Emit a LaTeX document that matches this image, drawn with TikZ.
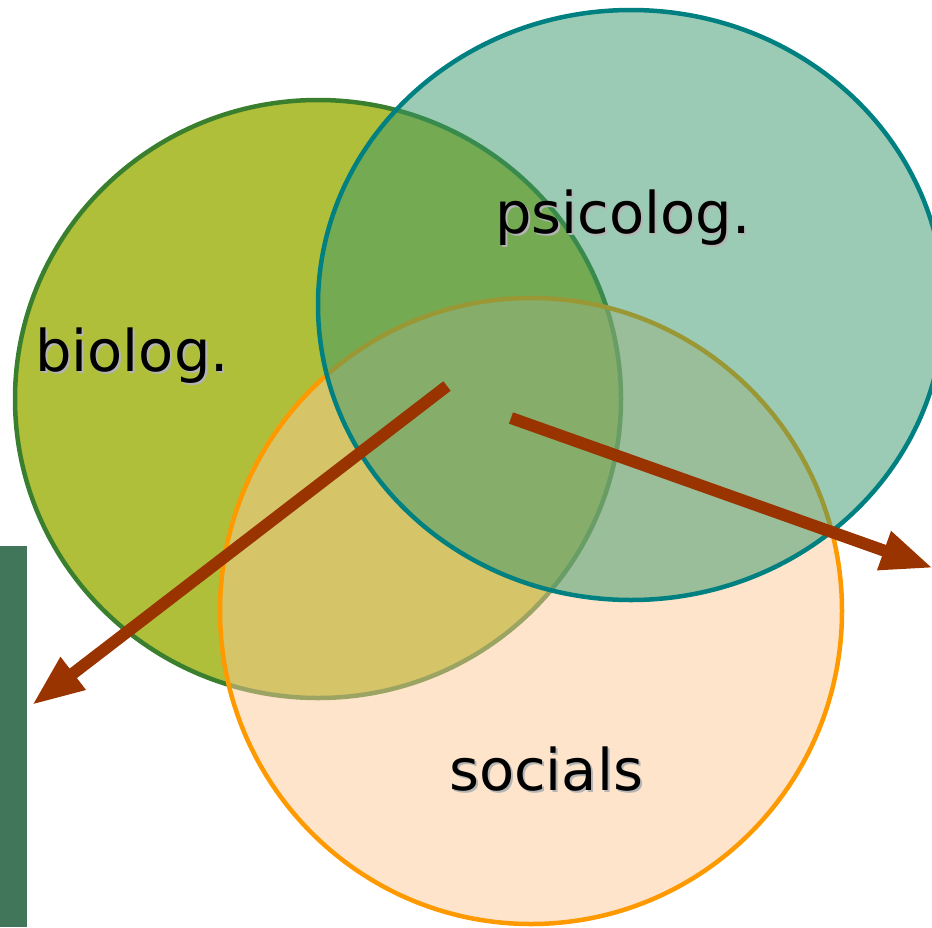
\documentclass[tikz,border=0pt]{standalone}
\usepackage{fontspec}
\setmainfont{DejaVu Sans}
\usetikzlibrary{arrows.meta}
\definecolor{biofill}{HTML}{B0BF3A}
\definecolor{biodraw}{HTML}{3A7F2E}
\definecolor{psifill}{HTML}{37976B}
\definecolor{psidraw}{HTML}{008080}
\definecolor{socfill}{HTML}{FDC997}
\definecolor{socdraw}{HTML}{FF9900}
\definecolor{arrowred}{HTML}{993300}
\definecolor{sidebar}{HTML}{41765A}
\definecolor{shadowgray}{HTML}{B4B4B4}
\newcommand{\shadowed}[1]{\makebox[0pt][l]{\color{shadowgray}\raisebox{-2pt}{\hspace{2pt}#1}}#1}
\tikzset{
  area/.style = {line width=4.5pt},
  label/.style = {inner sep=0pt, anchor=base west, font=\fontsize{57.5}{62}\selectfont},
  push/.style = {arrowred, line width=12pt, -{Triangle[length=52pt,width=38pt]}}
}
\begin{document}
\begin{tikzpicture}[x=1pt,y=-1pt]
  \useasboundingbox (0,0) rectangle (932,927);
  \begin{scope}
    \clip (0,0) rectangle (932,927);
    \fill [sidebar] (0,546) rectangle (27,927);
    % the three areas
    \draw [area,draw=biodraw,fill=biofill] (318,399) ellipse [x radius=303pt, y radius=299pt];
    \draw [area,draw=socdraw,fill=socfill,fill opacity=0.5] (531,611) ellipse [x radius=311pt, y radius=313pt];
    \draw [area,draw=psidraw,fill=psifill,fill opacity=0.5] (631,305) ellipse [x radius=313pt, y radius=295pt];
  \end{scope}
  \node [label] (bio) at (35,371) {\shadowed{biolog.}};
  \node [label] (psi) at (495,233) {\shadowed{psicolog.}};
  \node [label] (soc) at (449,790) {\shadowed{socials}};
  % arrows out of the centre
  \coordinate (startl) at (447,386);
  \coordinate (endl) at (32,705);
  \coordinate (startr) at (511,418);
  \coordinate (endr) at (933,568);
  \draw [push] (startl) -- (endl);
  \draw [push] (startr) -- (endr);
\end{tikzpicture}
\end{document}
